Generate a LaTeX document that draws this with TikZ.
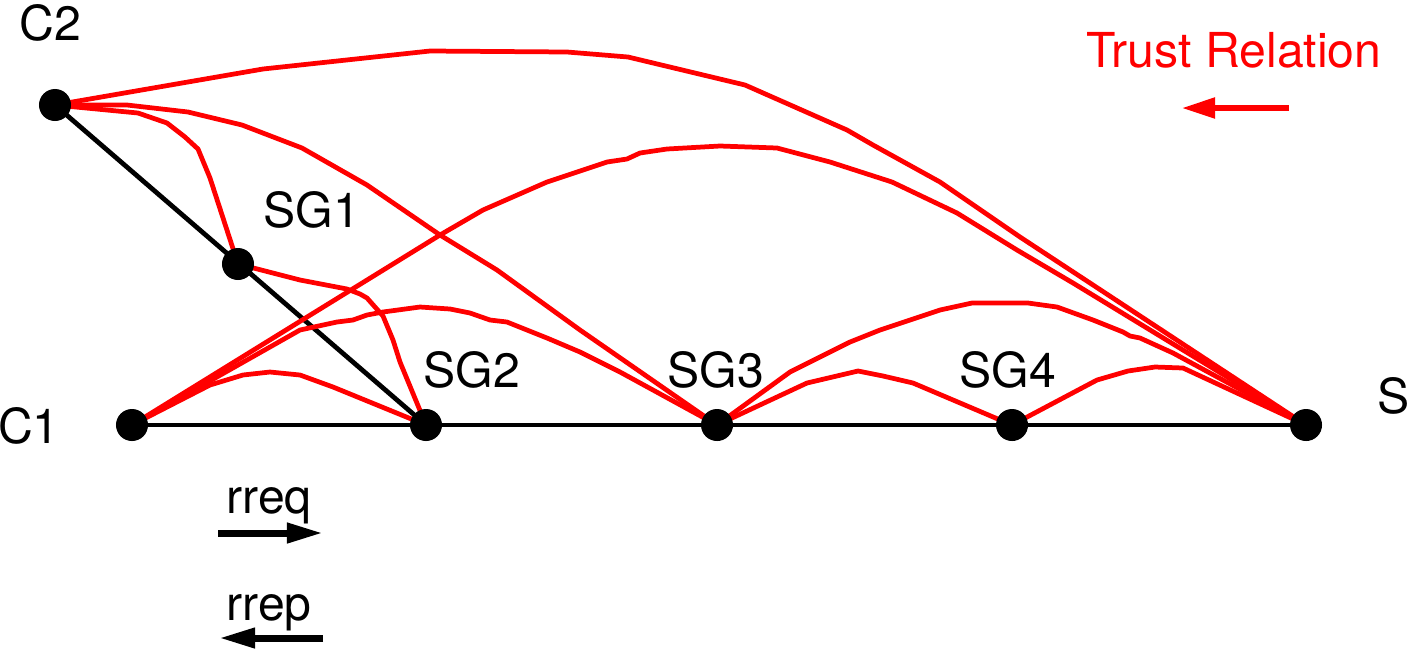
\documentclass[tikz,border=0pt]{standalone}
\usepackage{fontspec}
\setmainfont{TeX Gyre Heros}
\usetikzlibrary{arrows.meta,backgrounds}
\tikzset{
  dot/.style={circle,fill=black,inner sep=0pt,minimum size=0.32cm},
  lbl/.style={inner sep=0pt,anchor=base,font=\fontsize{13.7}{16}\selectfont},
  trust/.style={red,line width=1.35pt,line join=round},
  link/.style={black,line width=1.35pt},
  legend/.style={line width=2pt,-{Triangle[length=0.36cm,width=0.19cm]}},
  trustlegend/.style={red,line width=1.45pt,-{Triangle[length=0.33cm,width=0.2cm]}}
}
\begin{document}
\begin{tikzpicture}[x=0.01cm,y=-0.01cm]
\useasboundingbox (0,0) rectangle (1410,654);
% dots
\node[dot] (C2) at (55,105) {};
\node[dot] (SG1) at (238,264) {};
\node[dot] (C1) at (132,425) {};
\node[dot] (SG2) at (426,425) {};
\node[dot] (SG3) at (717,425) {};
\node[dot] (SG4) at (1012,425) {};
\node[dot] (S) at (1306,425) {};
% labels
\node[lbl] (tC2) at (50,40) {C2};
\node[lbl] (tSG1) at (312,227) {SG1};
\node[lbl] (tC1) at (29,443) {C1};
\node[lbl] (tSG2) at (472,387) {SG2};
\node[lbl] (tSG3) at (716,387) {SG3};
\node[lbl] (tSG4) at (1008,387) {SG4};
\node[lbl] (tS) at (1394,413) {S};
\node[lbl,text=red] (tTrust) at (1234,67) {Trust Relation};
\node[lbl] (trreq) at (269,513) {rreq};
\node[lbl] (trrep) at (269,620) {rrep};
% legend arrows
\coordinate (tA) at (1289,108);
\coordinate (tB) at (1182,108);
\draw[trustlegend] (tA) -- (tB);
\coordinate (qA) at (218,533);
\coordinate (qB) at (323,533);
\draw[legend] (qA) -- (qB);
\coordinate (pA) at (323,638);
\coordinate (pB) at (219,638);
\draw[legend] (pA) -- (pB);
\begin{scope}[on background layer]
% black links
\draw[link] (C2.center) -- (SG2.center);
\draw[link] (C1.center) -- (S.center);
% trust relations
\draw[trust] (C2.center) -- (263,69) -- (430,51) -- (567,52) -- (628,57) -- (745,85) -- (847,130) -- (873,145) -- (940,182) -- (1020,237) -- (S.center);
\draw[trust] (C2.center) -- (127,105) -- (188,112) -- (242,125) -- (302,148) -- (367,185) -- (440,235) -- (497,270) -- (580,330) -- (SG3.center);
\draw[trust] (C2.center) -- (138,113) -- (167,123) -- (185,137) -- (198,149) -- (210,178) -- (SG1.center);
\draw[trust] (C1.center) -- (440,235) -- (483,210) -- (547,182) -- (607,162) -- (627,159) -- (640,153) -- (667,149) -- (720,146) -- (777,148) -- (830,162) -- (892,182) -- (957,213) -- (1017,250) -- (1073,283) -- (S.center);
\draw[trust] (C1.center) -- (300,330) -- (337,322) -- (353,320) -- (367,315) -- (383,312) -- (420,307) -- (450,309) -- (470,313) -- (490,320) -- (507,322) -- (547,338) -- (580,352) -- (620,372) -- (SG3.center);
\draw[trust] (C1.center) -- (210,385) -- (243,375) -- (270,372) -- (300,375) -- (333,387) -- (SG2.center);
\draw[trust] (SG1.center) -- (300,280) -- (347,289) -- (360,294) -- (367,298) -- (383,316) -- (393,340) -- (400,362) -- (SG2.center);
\draw[trust] (SG3.center) -- (790,372) -- (850,342) -- (880,330) -- (940,310) -- (972,303) -- (1028,303) -- (1057,307) -- (1093,320) -- (1123,332) -- (1130,336) -- (1140,338) -- (1173,353) -- (S.center);
\draw[trust] (SG3.center) -- (807,383) -- (858,371) -- (883,376) -- (913,383) -- (SG4.center);
\draw[trust] (SG4.center) -- (1097,380) -- (1128,371) -- (1155,367) -- (1183,368) -- (S.center);
\end{scope}
\end{tikzpicture}
\end{document}
